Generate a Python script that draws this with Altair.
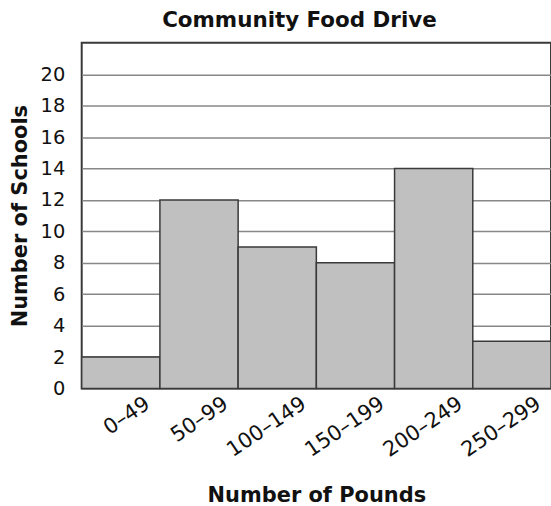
import altair as alt
import pandas as pd

categories = ["0–49", "50–99", "100–149", "150–199", "200–249", "250–299"]
schools = [2, 12, 9, 8, 14, 3]
y_ticks = [0, 2, 4, 6, 8, 10, 12, 14, 16, 18, 20]

df = pd.DataFrame({"range": categories, "count": schools})

FONT = "DejaVu Sans"

bars = alt.Chart(df).mark_bar(
    fill="#c0c0c0", stroke="#3a3a3a", strokeWidth=1.5
).encode(
    x=alt.X("range:N", sort=categories,
            scale=alt.Scale(paddingInner=0, paddingOuter=0),
            axis=alt.Axis(title="Number of Pounds", labelAngle=-34,
                          labelFont=FONT, labelFontSize=21, labelColor="#111",
                          labelPadding=4, labelOffset=21, ticks=False, domain=False,
                          titleFont=FONT, titleFontSize=21, titleFontWeight="bold",
                          titleColor="#111", titlePadding=24, grid=False)),
    y=alt.Y("count:Q", scale=alt.Scale(domain=[0, 22], nice=False),
            axis=alt.Axis(title="Number of Schools", values=y_ticks,
                          labelFont=FONT, labelFontSize=19.5, labelColor="#111",
                          labelPadding=17, ticks=False, domain=False,
                          titleFont=FONT, titleFontSize=21, titleFontWeight="bold",
                          titleColor="#111", titlePadding=10,
                          grid=True, gridColor="#888888", gridWidth=1.5)),
)

chart = bars.properties(
    width=471, height=347,
    background="white",
    title=alt.TitleParams("Community Food Drive", font=FONT, fontSize=21.5,
                          fontWeight="bold", color="#111", anchor="middle",
                          dx=-17, offset=11),
    padding={"left": 82, "top": 42, "right": 0, "bottom": 117},
    autosize=alt.AutoSizeParams(type="none"),
).configure_view(stroke="#3a3a3a", strokeWidth=2)

chart.save("out.html", embed_options={"renderer": "svg", "actions": False})
